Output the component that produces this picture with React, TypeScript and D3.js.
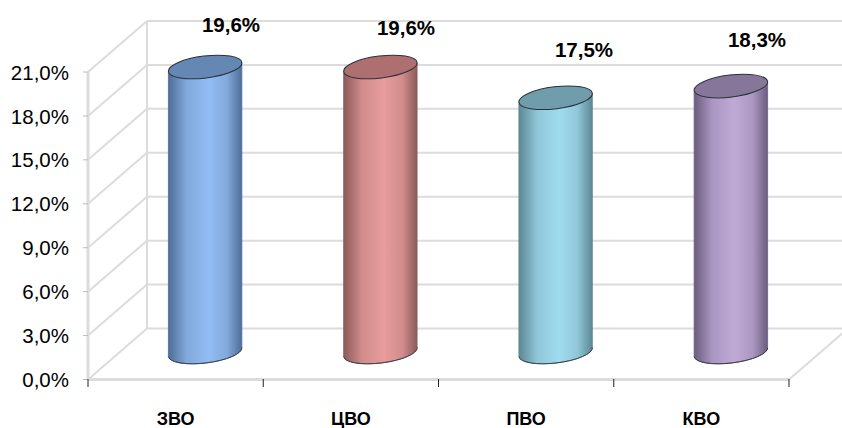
import React from "react";
import * as d3 from "d3";

const categories = ["ЗВО", "ЦВО", "ПВО", "КВО"];
const values = [19.6, 19.6, 17.5, 18.3];
const valueLabels = ["19,6%", "19,6%", "17,5%", "18,3%"];
const yTicks = [0, 3, 6, 9, 12, 15, 18, 21];
const yTickLabels = ["0,0%", "3,0%", "6,0%", "9,0%", "12,0%", "15,0%", "18,0%", "21,0%"];
const sideColors = ["#92bdf3", "#e89c9c", "#a0dcee", "#bfaad6"];
const edgeColors = ["#4f6d96", "#8c5a5a", "#5d8794", "#6c5c80"];
const topColors = ["#6487b3", "#ad6f6f", "#6f9dab", "#85769a"];

const WIDTH = 842;
const HEIGHT = 428;
const DEPTH_X = 59;
const DEPTH_Y = -51;
const labelPos: [number, number][] = [[231, 25], [406, 28], [584, 50], [757, 40]];

const x = d3.scaleBand<string>().domain(categories).range([88, 789]);
const y = d3.scaleLinear().domain([0, 21]).range([379.5, 72]);

export default function App() {
  const bw = 37;
  const ry = 11;
  const rot = -7;
  const midX = DEPTH_X / 2;
  const midY = DEPTH_Y / 2;
  const backRight = WIDTH + 5;
  const edges = d3.range(categories.length + 1).map((i) => 88 + i * x.step());
  const font = "'Liberation Sans', Arial, sans-serif";
  return (
    <svg
      width={WIDTH}
      height={HEIGHT}
      style={{ position: "absolute", left: 0, top: 0, background: "#fff" }}
    >
      <defs>
        {categories.map((c, i) => (
          <linearGradient key={c} id={`g${i}`} x1="0" x2="1" y1="0" y2="0">
            <stop offset="0" stopColor={edgeColors[i]} />
            <stop offset="0.25" stopColor={d3.interpolateRgb(edgeColors[i], sideColors[i])(0.75)} />
            <stop offset="0.55" stopColor={sideColors[i]} />
            <stop offset="0.8" stopColor={d3.interpolateRgb(edgeColors[i], sideColors[i])(0.75)} />
            <stop offset="1" stopColor={edgeColors[i]} />
          </linearGradient>
        ))}
      </defs>
      <g stroke="#dcdcdc" strokeWidth={2} fill="none">
        {yTicks.map((t) => (
          <g key={t}>
            <line x1={88} y1={y(t)} x2={88 + DEPTH_X} y2={y(t) + DEPTH_Y} />
            <line x1={88 + DEPTH_X} y1={y(t) + DEPTH_Y} x2={backRight} y2={y(t) + DEPTH_Y} />
          </g>
        ))}
        <line x1={88} y1={y(0)} x2={88} y2={y(21)} strokeWidth={3} />
        <line x1={88 + DEPTH_X} y1={y(0) + DEPTH_Y} x2={88 + DEPTH_X} y2={y(21) + DEPTH_Y} />
        <line x1={789} y1={y(0)} x2={789 + DEPTH_X} y2={y(0) + DEPTH_Y} />
        <line x1={88} y1={y(0)} x2={789} y2={y(0)} strokeWidth={3} />
      </g>
      <g stroke="#222" strokeWidth={1}>
        {yTicks.map((t) => (
          <line key={t} x1={83} x2={88} y1={y(t)} y2={y(t)} stroke="#bbb" />
        ))}
        {edges.map((e) => (
          <line key={e} x1={e} x2={e} y1={379} y2={387} />
        ))}
      </g>
      {categories.map((c, i) => {
        const cx = (x(c) as number) + x.bandwidth() / 2 + midX;
        const y0 = y(0) + midY - 2;
        const y1 = y(values[i]) + midY;
        const dy = bw * Math.sin((rot * Math.PI) / 180);
        const ax = bw * Math.cos((rot * Math.PI) / 180);
        const side = `M${cx - ax},${y1 - dy} L${cx - ax},${y0 - dy} A${bw},${ry} ${rot} 0 0 ${cx + ax},${y0 + dy} L${cx + ax},${y1 + dy} Z`;
        return (
          <g key={c}>
            <path d={side} fill={`url(#g${i})`} stroke={edgeColors[i]} strokeWidth={0.8} />
            <path
              d={`M${cx - ax},${y0 - dy} A${bw},${ry} ${rot} 0 0 ${cx + ax},${y0 + dy}`}
              fill="none"
              stroke="#3a4048"
              strokeWidth={1}
            />
            <ellipse
              cx={cx}
              cy={y1}
              rx={bw}
              ry={ry}
              transform={`rotate(${rot} ${cx} ${y1})`}
              fill={topColors[i]}
              stroke="#2a3038"
              strokeWidth={1}
            />
          </g>
        );
      })}
      <g fontFamily={font} fill="#000">
        {yTicks.map((t, i) => (
          <text key={t} x={69} y={y(t)} dy="0.37em" textAnchor="end" fontSize={20.5}>
            {yTickLabels[i]}
          </text>
        ))}
        {categories.map((c) => (
          <text
            key={c}
            x={(x(c) as number) + x.bandwidth() / 2}
            y={425}
            textAnchor="middle"
            fontSize={18}
            fontWeight="bold"
          >
            {c}
          </text>
        ))}
        {valueLabels.map((l, i) => (
          <text
            key={i}
            x={labelPos[i][0]}
            y={labelPos[i][1]}
            dy="0.36em"
            textAnchor="middle"
            fontSize={20.5}
            fontWeight="bold"
          >
            {l}
          </text>
        ))}
      </g>
    </svg>
  );
}
